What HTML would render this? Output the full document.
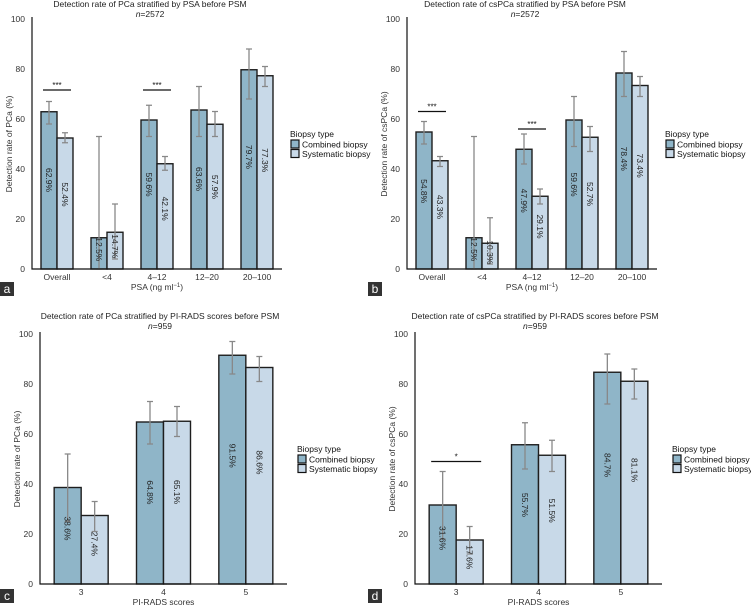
<!DOCTYPE html>
<html><head><meta charset="utf-8"><style>
html,body{margin:0;padding:0;background:#fff;}
svg{display:block;font-family:"Liberation Sans",sans-serif;}
</style></head><body>
<svg id="fig" width="751" height="612" viewBox="0 0 751 612"></svg>
<script>
// ---- data ----
const psaCats = ["Overall","<4","4\u201312","12\u201320","20\u2013100"];
const piCats = ["3","4","5"];
const aComb = [62.9,12.5,59.6,63.6,79.7];
const aSys = [52.4,14.7,42.1,57.9,77.3];
const aCombLo = [58,0,53,53,68]; const aCombHi = [67,53,65.5,73,88];
const aSysLo = [50.5,4,39.5,53,73]; const aSysHi = [54.5,26,45,63,81];
const bComb = [54.8,12.5,47.9,59.6,78.4];
const bSys = [43.3,10.3,29.1,52.7,73.4];
const bCombLo = [50,0,42,49,69]; const bCombHi = [59,53,54,69,87];
const bSysLo = [41,2,26,47,69]; const bSysHi = [45,20.5,32,57,77];
const cComb = [38.6,64.8,91.5];
const cSys = [27.4,65.1,86.6];
const cCombLo = [25,56,84]; const cCombHi = [52,73,97];
const cSysLo = [21,59,81]; const cSysHi = [33,71,91];
const dComb = [31.6,55.7,84.7];
const dSys = [17.6,51.5,81.1];
const dCombLo = [18,46,72]; const dCombHi = [45,64.5,92];
const dSysLo = [12,45,74]; const dSysHi = [23,57.5,86];
const yTicks = [0,20,40,60,80,100];
const aSig = [[0,"***",71.6],[2,"***",71.6]];
const bSig = [[0,"***",63],[2,"***",56]];
const cSig = [];
const dSig = [[0,"*",49]];

const NS="http://www.w3.org/2000/svg";
const svg=document.getElementById('fig');
function mk(tag,attrs,parent,text){const e=document.createElementNS(NS,tag);for(const k in attrs)e.setAttribute(k,attrs[k]);if(text!==undefined)e.textContent=text;(parent||svg).appendChild(e);return e;}

function panel(o){
  const g=mk('g',{});
  
  
  const y=v=>o.y0-(v/100)*(o.y0-o.y100);
  const n=o.cats.length;
  const step=(o.xEnd-o.ax)/n;
  const cx=i=>o.ax+step*(i+0.5);
  const bw=o.bw;
  const t=mk('text',{x:o.tx,y:o.ty,'font-size':8.5,'text-anchor':'middle',fill:'#222'},g,o.title);
  
  const nt=mk('text',{x:o.tx,y:o.ty+10,'font-size':8.5,'text-anchor':'middle',fill:'#222','font-style':'italic'},g,'');
  
  mk('tspan',{},nt,'n');mk('tspan',{'font-style':'normal'},nt,'='+o.n);
  yTicks.forEach(v=>{
    const tl=mk('text',{x:o.ax-7,y:y(v)+3,'font-size':8.5,'text-anchor':'end',fill:'#333'},g,String(v));
    
  });
  const yt=mk('text',{x:0,y:0,'font-size':8.5,'text-anchor':'middle',fill:'#333',transform:`translate(${o.ax-20},${(o.y0+o.y100)/2}) rotate(-90)`},g,o.ylab);
  
  const series=[[o.comb,o.combLo,o.combHi,'#8fb5c8',-1],[o.sys,o.sysLo,o.sysHi,'#c8d9e8',0]];
  o.cats.forEach((c,i)=>{
    series.forEach((s,si)=>{
      const x0=cx(i)+s[4]*bw;
      const r=mk('rect',{x:x0,y:y(s[0][i]),width:bw,height:y(0)-y(s[0][i]),fill:s[3],stroke:'#1e1e1e','stroke-width':1.4},g);
      
      const m=x0+bw/2;
      const e=mk('path',{d:`M${m},${y(s[1][i])}V${y(s[2][i])}M${m-3},${y(s[1][i])}H${m+3}M${m-3},${y(s[2][i])}H${m+3}`,stroke:'#888','stroke-width':1.3,fill:'none'},g);
      
      const ly=y(s[0][i]*0.55+1);
      const lb=mk('text',{x:0,y:3,'font-size':8.5,'text-anchor':'middle',fill:'#222',transform:`translate(${m},${ly}) rotate(90)`},g,s[0][i].toFixed(1)+'%');
      
    });
    const xl=mk('text',{x:cx(i),y:o.y0+11,'font-size':8.5,'text-anchor':'middle',fill:'#333'},g,c);
    
  });
  o.sig.forEach(s=>{
    const m=cx(s[0]);const yy=y(s[2]);
    const sl=mk('line',{x1:m-bw+2,x2:m+bw-2,y1:yy,y2:yy,stroke:'#111','stroke-width':1.3},g);
    
    const st=mk('text',{x:m,y:yy-2,'font-size':8,'text-anchor':'middle',fill:'#111'},g,s[1]);
    
  });
  const ax=mk('path',{d:`M${o.ax},${o.y100-2}V${o.y0}H${o.xEnd}`,stroke:'#111','stroke-width':1.2,fill:'none'},g);
  
  const xt=mk('text',{x:(o.ax+o.xEnd)/2,y:o.y0+21,'font-size':8.5,'text-anchor':'middle',fill:'#333'},g,'');
  
  if(o.psa){mk('tspan',{},xt,'PSA (ng ml');mk('tspan',{'font-size':6,dy:-3},xt,'\u22121');mk('tspan',{dy:3},xt,')');}
  else xt.textContent='PI-RADS scores';
  const lg=mk('g',{},g);
  mk('text',{x:o.lx,y:o.ly,'font-size':8.5,fill:'#111'},lg,'Biopsy type');
  [['Combined biopsy','#8fb5c8'],['Systematic biopsy','#c8d9e8']].forEach((l,k)=>{
    const r=mk('rect',{x:o.lx+1,y:o.ly+3+k*9.5,width:8,height:8,fill:l[1],stroke:'#111','stroke-width':1.2},lg);
    
    const lt=mk('text',{x:o.lx+12,y:o.ly+10.5+k*9.5,'font-size':8.5,fill:'#111'},lg,l[0]);
    
  });
  const pl=mk('rect',{x:o.px,y:o.py,width:14,height:14,fill:'#333'},g);
  
  const plt=mk('text',{x:o.px+7,y:o.py+11,'font-size':12,'text-anchor':'middle',fill:'#fff'},g,o.letter);
  
}

panel({letter:'a',title:'Detection rate of PCa stratified by PSA before PSM',n:2572,tx:150,ty:7,ax:32,xEnd:282,y0:269,y100:19,bw:16,cats:psaCats,comb:aComb,sys:aSys,combLo:aCombLo,combHi:aCombHi,sysLo:aSysLo,sysHi:aSysHi,sig:aSig,ylab:'Detection rate of PCa (%)',psa:true,lx:290,ly:137,px:0,py:282});
panel({letter:'b',title:'Detection rate of csPCa stratified by PSA before PSM',n:2572,tx:525,ty:7,ax:407,xEnd:657,y0:269,y100:19,bw:16,cats:psaCats,comb:bComb,sys:bSys,combLo:bCombLo,combHi:bCombHi,sysLo:bSysLo,sysHi:bSysHi,sig:bSig,ylab:'Detection rate of csPCa (%)',psa:true,lx:665,ly:137,px:368,py:282});
panel({letter:'c',title:'Detection rate of PCa stratified by PI-RADS scores before PSM',n:959,tx:160,ty:319,ax:40,xEnd:287,y0:584,y100:334,bw:27,cats:piCats,comb:cComb,sys:cSys,combLo:cCombLo,combHi:cCombHi,sysLo:cSysLo,sysHi:cSysHi,sig:cSig,ylab:'Detection rate of PCa (%)',psa:false,lx:297,ly:452,px:0,py:589});
panel({letter:'d',title:'Detection rate of csPCa stratified by PI-RADS scores before PSM',n:959,tx:535,ty:319,ax:415,xEnd:662,y0:584,y100:334,bw:27,cats:piCats,comb:dComb,sys:dSys,combLo:dCombLo,combHi:dCombHi,sysLo:dSysLo,sysHi:dSysHi,sig:dSig,ylab:'Detection rate of csPCa (%)',psa:false,lx:672,ly:452,px:368,py:589});
</script>
</body></html>
